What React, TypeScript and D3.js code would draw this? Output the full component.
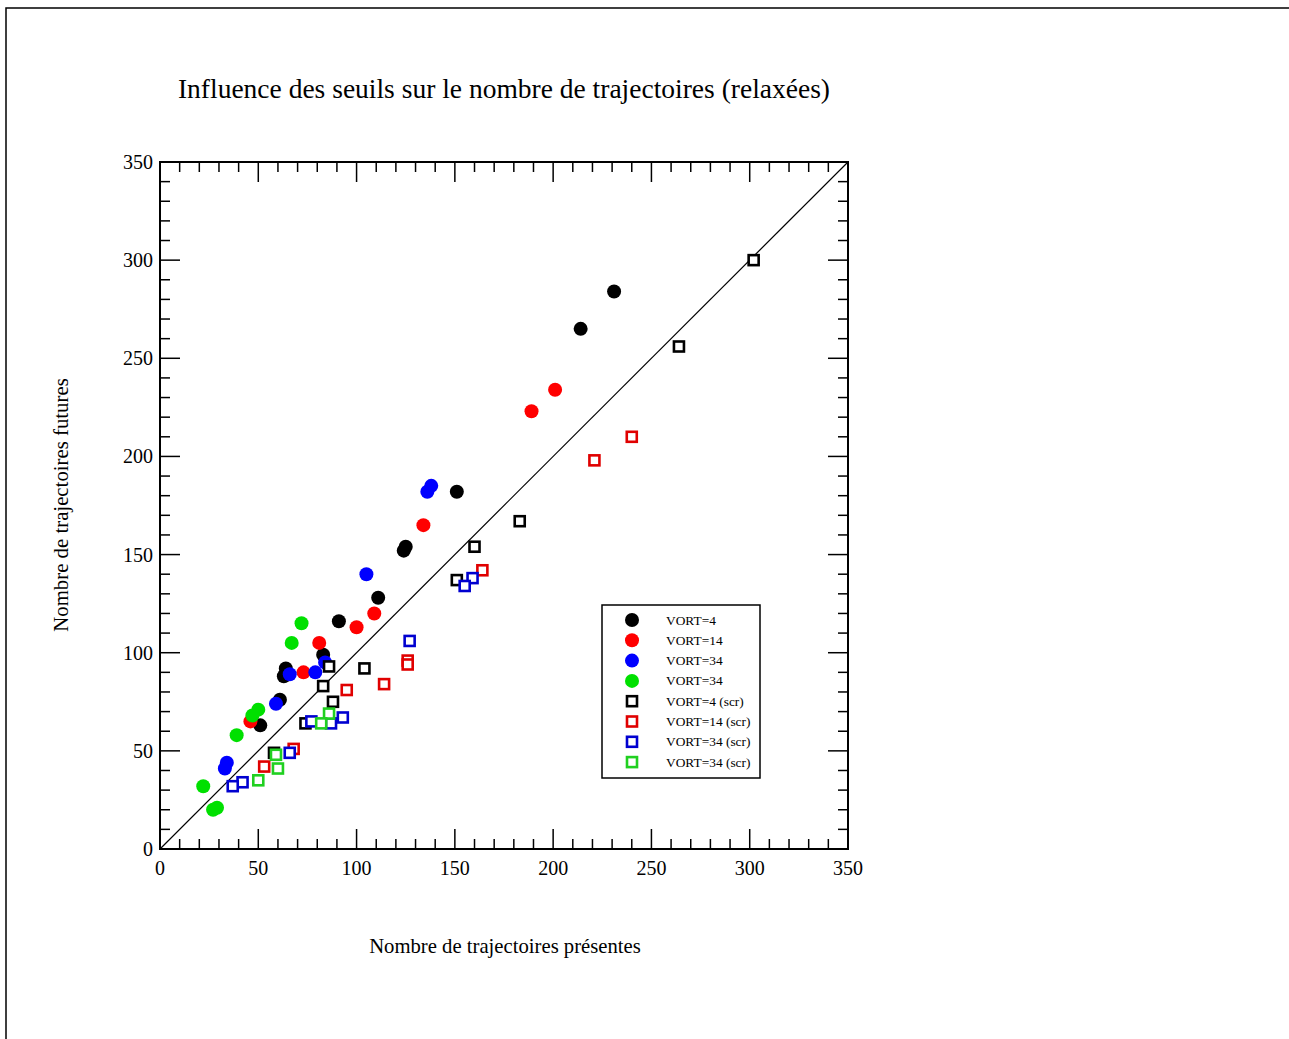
import React from "react";
import * as d3 from "d3";

// series: [présentes, futures]
const vort4: [number, number][] = [
  [231, 284], [214, 265], [151, 182], [125, 154], [124, 152], [111, 128], [91, 116],
  [83, 99], [64, 92], [63, 88], [61, 76], [51, 63],
];
const vort14: [number, number][] = [
  [201, 234], [189, 223], [134, 165], [109, 120], [100, 113], [81, 105], [73, 90], [46, 65],
];
const vort24: [number, number][] = [
  [138, 185], [136, 182], [105, 140], [84, 95], [79, 90], [66, 89], [59, 74], [34, 44], [33, 41],
];
const vort34: [number, number][] = [
  [72, 115], [67, 105], [50, 71], [47, 68], [39, 58], [22, 32], [29, 21], [27, 20],
];
const vort4scr: [number, number][] = [
  [302, 300], [264, 256], [183, 167], [160, 154], [151, 137], [104, 92], [86, 93],
  [83, 83], [88, 75], [74, 64], [58, 49],
];
const vort14scr: [number, number][] = [
  [240, 210], [221, 198], [164, 142], [126, 96], [126, 94], [114, 84], [95, 81], [68, 51], [53, 42],
];
const vort24scr: [number, number][] = [
  [159, 138], [155, 134], [127, 106], [93, 67], [87, 64], [77, 65], [66, 49], [42, 34], [37, 32],
];
const vort34scr: [number, number][] = [
  [86, 69], [82, 64], [59, 48], [60, 41], [50, 35],
];

const legendLabels = [
  "VORT=4", "VORT=14", "VORT=34", "VORT=34",
  "VORT=4 (scr)", "VORT=14 (scr)", "VORT=34 (scr)", "VORT=34 (scr)",
];
const majorTicks = [0, 50, 100, 150, 200, 250, 300, 350];

const series = [
  { data: vort4, color: "#000000", filled: true },
  { data: vort14, color: "#ff0000", filled: true },
  { data: vort24, color: "#0000ff", filled: true },
  { data: vort34, color: "#00e000", filled: true },
  { data: vort4scr, color: "#000000", filled: false },
  { data: vort14scr, color: "#e00000", filled: false },
  { data: vort24scr, color: "#0000d0", filled: false },
  { data: vort34scr, color: "#20d020", filled: false },
];

const font = "'Liberation Serif', 'DejaVu Serif', serif";

const Marker = ({ x, y, color, filled }: { x: number; y: number; color: string; filled: boolean }) =>
  filled ? (
    <circle cx={x} cy={y} r={7} fill={color} />
  ) : (
    <rect x={x - 5} y={y - 5} width={10} height={10} fill="white" stroke={color} strokeWidth={2.6} />
  );

export default function App() {
  const x = d3.scaleLinear().domain([0, 350]).range([160, 848]);
  const y = d3.scaleLinear().domain([0, 350]).range([849, 162]);
  const minor = d3.range(0, 351, 10);

  return (
    <svg width={1289} height={1039} style={{ position: "absolute", left: 0, top: 0, background: "white" }}>
      <rect x={6} y={8} width={1300} height={1100} fill="white" stroke="black" strokeWidth={1.5} />

      <text x={504} y={98} textAnchor="middle" fontFamily={font} fontSize={27.5}>
        Influence des seuils sur le nombre de trajectoires (relaxées)
      </text>

      {/* ticks on all four sides, pointing inward */}
      {minor.map((v) => {
        const len = v % 50 === 0 ? 20 : 10;
        return (
          <g key={v} stroke="black" strokeWidth={1.5}>
            <line x1={x(v)} x2={x(v)} y1={y(0)} y2={y(0) - len} />
            <line x1={x(v)} x2={x(v)} y1={y(350)} y2={y(350) + len} />
            <line x1={x(0)} x2={x(0) + len} y1={y(v)} y2={y(v)} />
            <line x1={x(350)} x2={x(350) - len} y1={y(v)} y2={y(v)} />
          </g>
        );
      })}
      <rect x={x(0)} y={y(350)} width={x(350) - x(0)} height={y(0) - y(350)} fill="none" stroke="black" strokeWidth={2} />

      {majorTicks.map((v) => (
        <g key={v} fontFamily={font} fontSize={20}>
          <text x={x(0) - 7} y={y(v) + 7} textAnchor="end">{v}</text>
          <text x={x(v)} y={y(0) + 26} textAnchor="middle">{v}</text>
        </g>
      ))}

      <line x1={x(0)} y1={y(0)} x2={x(350)} y2={y(350)} stroke="black" strokeWidth={1.2} />

      {series.map((s, i) =>
        s.data.map((d, j) => <Marker key={`${i}-${j}`} x={x(d[0])} y={y(d[1])} color={s.color} filled={s.filled} />)
      )}

      <g>
        <rect x={602} y={605} width={158} height={173} fill="white" stroke="black" strokeWidth={1.5} />
        {series.map((s, i) => {
          const ry = 620 + i * 20.3;
          return (
            <g key={i}>
              <Marker x={632} y={ry} color={s.color} filled={s.filled} />
              <text x={666} y={ry + 4.5} fontFamily={font} fontSize={13.4}>
                {legendLabels[i]}
              </text>
            </g>
          );
        })}
      </g>

      <text x={505} y={953} textAnchor="middle" fontFamily={font} fontSize={20.7}>
        Nombre de trajectoires présentes
      </text>
      <text transform="translate(68,505) rotate(-90)" textAnchor="middle" fontFamily={font} fontSize={20.8}>
        Nombre de trajectoires futures
      </text>
    </svg>
  );
}
